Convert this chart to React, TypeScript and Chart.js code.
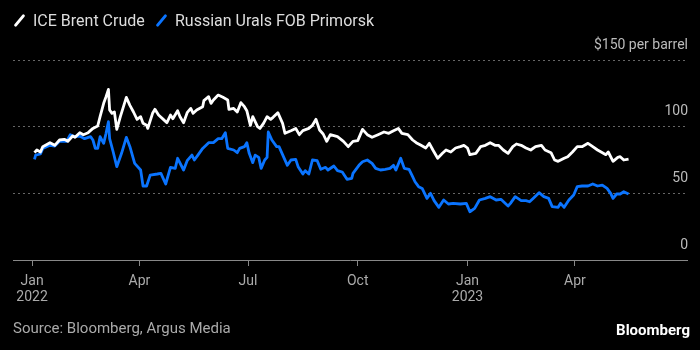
import React, { useEffect, useRef } from 'react';
import { Chart, registerables } from 'chart.js';

Chart.register(...registerables);

const seriesNames = ['ICE Brent Crude', 'Russian Urals FOB Primorsk'];
const seriesColors = ['#ffffff', '#0a74ff'];

const brentDates = [
  '2022-01-03','2022-01-05','2022-01-08','2022-01-10','2022-01-16','2022-01-20','2022-01-24','2022-01-28','2022-01-31',
  '2022-02-04','2022-02-06','2022-02-10','2022-02-13','2022-02-17','2022-02-21','2022-02-25','2022-02-27',
  '2022-03-02','2022-03-04','2022-03-06','2022-03-07','2022-03-09','2022-03-11','2022-03-13','2022-03-16','2022-03-21','2022-03-24','2022-03-27','2022-03-30',
  '2022-04-02','2022-04-04','2022-04-07','2022-04-08','2022-04-12','2022-04-14','2022-04-17','2022-04-21','2022-04-24','2022-04-27','2022-04-29',
  '2022-05-03','2022-05-05','2022-05-08','2022-05-11','2022-05-14','2022-05-16','2022-05-19','2022-05-24','2022-05-25','2022-05-29','2022-05-31',
  '2022-06-02','2022-06-06','2022-06-10','2022-06-14','2022-06-15','2022-06-19','2022-06-22','2022-06-25','2022-06-28','2022-06-30',
  '2022-07-03','2022-07-05','2022-07-09','2022-07-11','2022-07-14','2022-07-17','2022-07-20','2022-07-22','2022-07-26','2022-07-30',
  '2022-08-01','2022-08-06','2022-08-10','2022-08-13','2022-08-16','2022-08-21','2022-08-24','2022-08-27','2022-08-30',
  '2022-09-02','2022-09-05','2022-09-08','2022-09-14','2022-09-19','2022-09-23','2022-09-27',
  '2022-10-01','2022-10-05','2022-10-09','2022-10-13','2022-10-18','2022-10-23','2022-10-27','2022-10-31',
  '2022-11-04','2022-11-07','2022-11-12','2022-11-16','2022-11-19','2022-11-23','2022-11-27','2022-11-30',
  '2022-12-03','2022-12-07','2022-12-11','2022-12-14','2022-12-18','2022-12-22','2022-12-26','2022-12-29',
  '2023-01-01','2023-01-03','2023-01-08','2023-01-12','2023-01-16','2023-01-20','2023-01-24','2023-01-27','2023-01-31',
  '2023-02-04','2023-02-08','2023-02-11','2023-02-15','2023-02-19','2023-02-23','2023-02-27',
  '2023-03-04','2023-03-07','2023-03-12','2023-03-15','2023-03-18','2023-03-23','2023-03-26','2023-03-30',
  '2023-04-03','2023-04-07','2023-04-12','2023-04-16','2023-04-20','2023-04-23','2023-04-27','2023-04-29',
  '2023-05-03','2023-05-07','2023-05-09','2023-05-12','2023-05-16',
];
const brentValues = [
  80.5, 82.5, 81, 85, 88, 86, 90, 90.5, 89,
  93, 92, 95.5, 94, 95.5, 98.7, 100.5, 107.5,
  117.5, 122.5, 128, 112.5, 110, 111, 98, 107.5, 122, 116, 111, 105.5,
  107.5, 102.5, 101, 98.7, 110, 113, 108.7, 105.5, 103, 108.7, 106,
  112, 107.5, 103, 110.5, 113.7, 110, 112.5, 115, 119.5, 122.5, 117.5,
  120, 123.7, 122, 120, 113, 113.7, 111, 118, 115, 112,
  101, 107.5, 100, 98.7, 102.5, 107.5, 105.5, 107, 110.5, 102.5,
  95, 97, 98.7, 94, 97, 98.7, 101, 105.5, 97.5,
  94.5, 89, 94, 92.5, 89, 85, 89,
  89.5, 98, 94, 92, 94, 96, 95, 97,
  98.7, 95, 94, 90, 88, 86, 84, 87.5,
  82.5, 76.3, 80, 82.5, 81, 84, 85, 86,
  84, 79, 80, 85, 86, 88, 86, 86, 82.5,
  80, 85, 87, 86, 84, 82.5, 85,
  86, 82.5, 80.5, 75, 74, 76.3, 77.5, 81,
  85, 85, 87.5, 85, 82.5, 81, 79, 81,
  74, 77, 77.5, 75, 75.7,
];

const uralsDates = [
  '2022-01-03','2022-01-04','2022-01-08','2022-01-10','2022-01-16','2022-01-20','2022-01-24','2022-01-30',
  '2022-02-02','2022-02-06','2022-02-10','2022-02-14','2022-02-19','2022-02-21','2022-02-23','2022-02-25','2022-02-27',
  '2022-03-02','2022-03-04','2022-03-06','2022-03-07','2022-03-10','2022-03-13','2022-03-17','2022-03-21','2022-03-24','2022-03-28',
  '2022-04-02','2022-04-04','2022-04-07','2022-04-10','2022-04-16','2022-04-19','2022-04-23','2022-04-27',
  '2022-05-01','2022-05-03','2022-05-08','2022-05-11','2022-05-15','2022-05-17','2022-05-20','2022-05-24','2022-05-29',
  '2022-06-02','2022-06-06','2022-06-09','2022-06-12','2022-06-14','2022-06-19','2022-06-22','2022-06-24','2022-06-28','2022-06-30',
  '2022-07-02','2022-07-05','2022-07-07','2022-07-10','2022-07-12','2022-07-15','2022-07-17','2022-07-18','2022-07-21','2022-07-25','2022-07-27','2022-07-31',
  '2022-08-03','2022-08-06','2022-08-10','2022-08-12','2022-08-16','2022-08-18','2022-08-21','2022-08-24','2022-08-28','2022-08-31',
  '2022-09-04','2022-09-06','2022-09-11','2022-09-14','2022-09-18','2022-09-22','2022-09-26','2022-09-27',
  '2022-10-02','2022-10-05','2022-10-09','2022-10-13','2022-10-16','2022-10-20','2022-10-24','2022-10-28','2022-10-31',
  '2022-11-02','2022-11-06','2022-11-09','2022-11-13','2022-11-16','2022-11-18','2022-11-21','2022-11-24','2022-11-28',
  '2022-12-01','2022-12-04','2022-12-08','2022-12-12','2022-12-16','2022-12-20','2022-12-26','2022-12-31',
  '2023-01-03','2023-01-07','2023-01-11','2023-01-16','2023-01-20','2023-01-25','2023-01-29',
  '2023-02-04','2023-02-06','2023-02-10','2023-02-15','2023-02-19','2023-02-22','2023-02-25',
  '2023-03-02','2023-03-06','2023-03-10','2023-03-13','2023-03-18','2023-03-20','2023-03-23','2023-03-27','2023-03-31',
  '2023-04-03','2023-04-07','2023-04-12','2023-04-16','2023-04-20','2023-04-24','2023-04-28',
  '2023-05-01','2023-05-03','2023-05-06','2023-05-09','2023-05-12','2023-05-16',
];
const uralsValues = [
  75.5, 78.7, 79.5, 83.7, 86, 85.5, 89, 89,
  94, 92.5, 93, 91, 92.5, 90, 83.7, 83.7, 92.5,
  87.5, 95, 103.7, 91, 81, 70, 80, 92, 85, 72.5,
  67.5, 55.5, 55.5, 63.7, 64.5, 65, 57, 69.5,
  68.7, 76.3, 67.5, 74.5, 78.7, 75, 78.7, 83.7, 88,
  88, 91, 91, 95.5, 83.7, 82.5, 80.5, 83.7, 85, 88,
  80, 73, 78.7, 77, 68.7, 75, 77, 96, 90, 85, 85, 77,
  71, 75, 75.5, 70, 64.5, 67, 64.5, 75, 74.5, 68,
  69.5, 67.5, 70.5, 67, 66, 60.5, 61.3, 65,
  71, 73.7, 75, 72.5, 68.7, 67.5, 68, 68.7, 71,
  67.5, 76.3, 68.7, 68, 62.5, 58.7, 55, 53.7, 46.2,
  50, 44.5, 39.5, 45, 42, 42.5, 42, 42.5,
  36.2, 38.7, 45, 46.2, 47.5, 45, 45.5,
  40.5, 42.5, 47.5, 44.5, 44.5, 43.7, 46.2,
  50.5, 47.5, 46.2, 40, 39.5, 42.5, 39.5, 45, 48.7,
  55, 55.5, 55.5, 57, 55.5, 56.2, 53.7,
  50, 46.2, 49.5, 49.5, 51.2, 49.5,
];

const xAxisStart = '2021-12-16';
const xAxisEnd = '2023-07-04';
const xTickDates = ['2022-01-01', '2022-04-01', '2022-07-01', '2022-10-01', '2023-01-01', '2023-04-01'];
const xTickLabels = [['Jan', '2022'], ['Apr'], ['Jul'], ['Oct'], ['Jan', '2023'], ['Apr']];
const yTickValues = [0, 50, 100, 150];
const yTopLabel = '$150 per barrel';
const sourceText = 'Source: Bloomberg, Argus Media';
const brandText = 'Bloomberg';

const FONT = 'Roboto, "Noto Sans", sans-serif';
const dayNum = (s: string) => (Date.parse(s + 'T00:00:00Z') - Date.parse('2022-01-01T00:00:00Z')) / 86400000;

export default function App() {
  const ref = useRef<HTMLCanvasElement | null>(null);

  useEffect(() => {
    document.body.style.margin = '0';
    document.body.style.background = '#000';
    const canvas = ref.current;
    if (!canvas) return;
    const chart = new Chart(canvas, {
      type: 'line',
      data: {
        datasets: [
          {
            label: seriesNames[0],
            data: brentDates.map((d, i) => ({ x: dayNum(d), y: brentValues[i] })),
            borderColor: seriesColors[0],
            borderWidth: 2.8,
            pointRadius: 0,
            tension: 0,
            borderJoinStyle: 'round',
          },
          {
            label: seriesNames[1],
            data: uralsDates.map((d, i) => ({ x: dayNum(d), y: uralsValues[i] })),
            borderColor: seriesColors[1],
            borderWidth: 2.8,
            pointRadius: 0,
            tension: 0,
            borderJoinStyle: 'round',
          },
        ],
      },
      options: {
        responsive: false,
        animation: false,
        layout: { padding: { left: 13, right: 13, top: 60, bottom: 0 } },
        plugins: { legend: { display: false }, tooltip: { enabled: false } },
        scales: {
          x: {
            type: 'linear',
            min: dayNum(xAxisStart),
            max: dayNum(xAxisEnd),
            afterBuildTicks: (scale: any) => {
              scale.ticks = xTickDates.map((d) => ({ value: dayNum(d) }));
            },
            afterFit: (scale: any) => {
              scale.height = 90;
            },
            ticks: {
              autoSkip: false,
              maxRotation: 0,
              color: '#aaaaaa',
              padding: 8,
              font: { family: FONT, size: 14, lineHeight: 1.1 },
              callback: (_v: any, i: number) => xTickLabels[i],
            },
            grid: {
              drawOnChartArea: false,
              drawTicks: true,
              tickLength: 6,
              color: '#888888',
              lineWidth: 1,
            },
            border: { display: true, color: '#888888', width: 1 },
          },
          y: {
            type: 'linear',
            position: 'right',
            min: 0,
            max: 150,
            afterBuildTicks: (scale: any) => {
              scale.ticks = yTickValues.map((v) => ({ value: v }));
            },
            afterFit: (scale: any) => {
              scale.width = 0;
            },
            ticks: {
              mirror: true,
              padding: 1,
              labelOffset: -15,
              color: '#bbbbbb',
              font: { family: FONT, size: 14 },
              callback: (v: any) => (v === 150 ? yTopLabel : String(v)),
            },
            grid: {
              drawTicks: false,
              color: (ctx: any) => (ctx.tick && ctx.tick.value === 0 ? 'rgba(0,0,0,0)' : '#666666'),
              lineWidth: 1,
            },
            border: { display: false, dash: [2, 3] },
          },
        },
      },
    } as any);
    return () => chart.destroy();
  }, []);

  const legendItem = (name: string, color: string, left: number) => (
    <div style={{ position: 'absolute', left, top: 10, height: 20, display: 'flex', alignItems: 'center' }}>
      <div
        style={{
          width: 3,
          height: 15,
          background: color,
          borderRadius: 1.5,
          transform: 'rotate(40deg)',
          marginLeft: 4,
          marginRight: 12,
        }}
      />
      <span style={{ color: '#dddddd', fontFamily: FONT, fontSize: 16, whiteSpace: 'nowrap' }}>{name}</span>
    </div>
  );

  return (
    <div style={{ position: 'relative', width: 700, height: 350, background: '#000', overflow: 'hidden' }}>
      <canvas ref={ref} width={700} height={350} style={{ position: 'absolute', left: 0, top: 0 }} />
      {legendItem(seriesNames[0], seriesColors[0], 14)}
      {legendItem(seriesNames[1], seriesColors[1], 156)}
      <div
        style={{
          position: 'absolute',
          left: 13,
          top: 319,
          color: '#aaaaaa',
          fontFamily: FONT,
          fontSize: 15,
          whiteSpace: 'nowrap',
        }}
      >
        {sourceText}
      </div>
      <div
        style={{
          position: 'absolute',
          right: 10,
          top: 321,
          color: '#ffffff',
          fontFamily: FONT,
          fontWeight: 700,
          fontSize: 15,
          whiteSpace: 'nowrap',
        }}
      >
        {brandText}
      </div>
    </div>
  );
}
